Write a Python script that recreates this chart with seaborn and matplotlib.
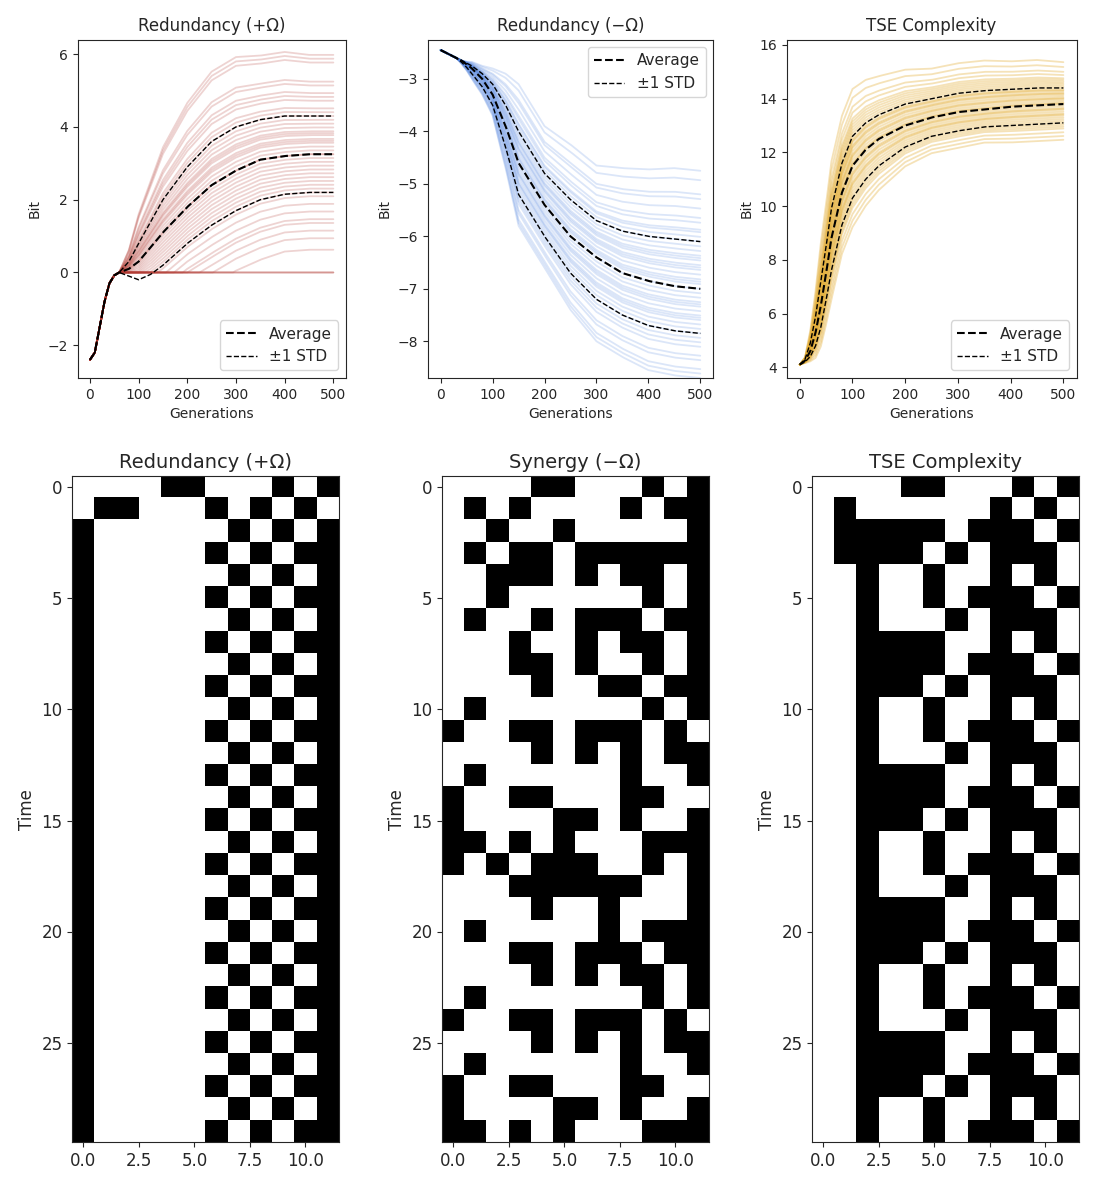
import numpy as np
import pandas as pd
import seaborn as sns
from matplotlib import pyplot as plt

gens = [0, 10, 20, 30, 40, 50, 60, 80, 100, 125, 150, 200, 250, 300, 350, 400, 450, 500]

red_avg = [-2.4, -2.2, -1.5, -0.8, -0.3, -0.08, 0.0, 0.1, 0.3, 0.7, 1.1, 1.8, 2.4, 2.8, 3.1, 3.2, 3.25, 3.25]
red_hi = [-2.4, -2.2, -1.5, -0.8, -0.3, -0.08, 0.0, 0.3, 0.8, 1.4, 2.0, 2.9, 3.6, 4.0, 4.2, 4.3, 4.3, 4.3]
red_lo = [-2.4, -2.2, -1.5, -0.8, -0.3, -0.08, 0.0, -0.1, -0.2, -0.05, 0.2, 0.8, 1.3, 1.7, 2.0, 2.15, 2.2, 2.2]

blue_avg = [-2.45, -2.5, -2.55, -2.6, -2.65, -2.72, -2.8, -3.0, -3.3, -3.9, -4.6, -5.4, -6.0, -6.4, -6.7, -6.85, -6.95, -7.0]
blue_hi = [-2.45, -2.5, -2.55, -2.6, -2.65, -2.7, -2.75, -2.9, -3.1, -3.5, -4.0, -4.8, -5.3, -5.7, -5.9, -6.0, -6.05, -6.1]
blue_lo = [-2.45, -2.5, -2.55, -2.6, -2.68, -2.78, -2.9, -3.15, -3.5, -4.3, -5.2, -6.0, -6.7, -7.2, -7.5, -7.7, -7.8, -7.85]

gold_avg = [4.1, 4.25, 4.6, 5.3, 6.3, 7.5, 8.8, 10.5, 11.5, 12.1, 12.5, 13.0, 13.3, 13.5, 13.6, 13.7, 13.75, 13.8]
gold_hi = [4.1, 4.3, 4.9, 5.9, 7.2, 8.5, 9.9, 11.6, 12.6, 13.1, 13.4, 13.8, 14.0, 14.2, 14.3, 14.35, 14.4, 14.4]
gold_lo = [4.1, 4.2, 4.4, 4.8, 5.5, 6.5, 7.6, 9.3, 10.3, 11.0, 11.5, 12.2, 12.6, 12.8, 12.95, 13.0, 13.05, 13.1]

# spread of individual runs, in units of one STD
red_z = [-3.1, -3.1, -3.1, -2.5, -2.0, -1.8, -1.5, -1.3, -1.1, -1.0, -0.9, -0.7, -0.6, -0.5,
         -0.4, -0.3, -0.2, -0.1, 0.0, 0.0, 0.1, 0.2, 0.3, 0.4, 0.5, 0.6, 0.7, 0.8, 0.9, 1.0,
         1.1, 1.2, 1.4, 1.6, 1.8, 1.9, 2.4, 2.5, -1.7, -0.8, 0.35, 0.55, 1.5, -2.2, 2.6]
blue_z = [-2.0, -1.8, -1.6, -1.5, -1.3, -1.2, -1.0, -0.9, -0.8, -0.7, -0.6, -0.5, -0.4, -0.3,
          -0.2, -0.1, 0.0, 0.1, 0.2, 0.3, 0.4, 0.5, 0.6, 0.7, 0.8, 0.9, 1.0, 1.1, 1.2, 1.4,
          1.5, 1.7, 1.9, 2.0, 2.3, -1.1, -0.35, 0.15, 0.65, 1.25, -1.9, -0.65, 0.45, 2.5]
gold_z = [-1.9, -1.7, -1.5, -1.3, -1.2, -1.0, -0.9, -0.8, -0.7, -0.6, -0.5, -0.4, -0.3, -0.2,
          -0.1, 0.0, 0.1, 0.2, 0.3, 0.4, 0.5, 0.6, 0.7, 0.8, 0.9, 1.0, 1.1, 1.2, 1.4, 1.6,
          1.8, 2.0, 2.3, -1.1, -0.25, 0.35, 0.85, 1.5, -0.55, 0.05, 0.65, 1.3, 2.6]

# binary CA patterns (1 = black)
red_grid = ["000011000101", "011000101010"] + \
    ["100000010101", "100000101011"] * 14
syn_grid = ["000011000101", "010100001011", "001001000001", "010110111111",
            "001110101101", "001000000101", "010010111011", "000100101101",
            "000110100101", "000010011011", "010000000101", "100110111010",
            "000010101011", "010000001001", "100110001100", "100001101001",
            "110101000111", "101011100101", "000111111001", "000010010001",
            "010000010111", "000110111011", "000010101101", "010000000101",
            "100110111010", "000010101011", "010000001001", "100110001100",
            "100001101001", "110101000111"]
tse_grid = ["000011000101", "010000001010", "011111011101", "011110101110"] + \
    ["001001001010", "001001011101", "001000101110",
     "001111001010", "001111011101", "001110101110"] * 4 + \
    ["001001001010", "001001011101"]

xs = np.arange(0, 501, 2)


def runs_frame(avg, hi, lo, zs, floor=None):
    a = np.interp(xs, gens, avg)
    h = np.interp(xs, gens, hi)
    l = np.interp(xs, gens, lo)
    rows = []
    for i, z in enumerate(zs):
        y = a + z * np.where(z >= 0, h - a, a - l)
        if floor is not None:
            y = np.where(xs >= 60, np.maximum(y, floor), y)
        rows.append(pd.DataFrame({'gen': xs, 'bit': y, 'run': i}))
    return pd.concat(rows, ignore_index=True)


def plot_panel(ax, avg, hi, lo, zs, color, alpha, title, loc, floor=None):
    df = runs_frame(avg, hi, lo, zs, floor)
    sns.lineplot(ax=ax, data=df, x='gen', y='bit', units='run', estimator=None,
                 color=color, alpha=alpha, lw=1.3, legend=False)
    sns.lineplot(ax=ax, x=xs, y=np.interp(xs, gens, avg), color='black', ls='--', lw=1.5,
                 label='Average')
    sns.lineplot(ax=ax, x=xs, y=np.interp(xs, gens, hi), color='black', ls='--', lw=1,
                 label='±1 STD')
    sns.lineplot(ax=ax, x=xs, y=np.interp(xs, gens, lo), color='black', ls='--', lw=1)
    ax.legend(loc=loc, fontsize=11)
    ax.set_title(title, fontsize=12)
    ax.set(xlabel='Generations', ylabel='Bit')


def plot_grid(ax, grid, title):
    arr = np.array([[int(c) for c in row] for row in grid])
    ax.imshow(arr, cmap='gray_r', interpolation='nearest', aspect='equal')
    ax.set_title(title, fontsize=14)
    ax.set_ylabel('Time', fontsize=12)
    ax.set_yticks([0, 5, 10, 15, 20, 25])
    ax.set_xticks([0, 2.5, 5, 7.5, 10])
    ax.tick_params(labelsize=12)


sns.set_style("ticks")
fig = plt.figure(figsize=(11.11, 12), dpi=100)

ax1 = fig.add_axes([0.070, 0.685, 0.241, 0.282])
ax2 = fig.add_axes([0.385, 0.685, 0.257, 0.282])
ax3 = fig.add_axes([0.708, 0.685, 0.261, 0.282])
plot_panel(ax1, red_avg, red_hi, red_lo, red_z, '#b23a32', 0.22, 'Redundancy (+Ω)', 'lower right', 0.0)
plot_panel(ax2, blue_avg, blue_hi, blue_lo, blue_z, '#4f82e0', 0.2, 'Redundancy (−Ω)', 'upper right')
plot_panel(ax3, gold_avg, gold_hi, gold_lo, gold_z, '#e3ad35', 0.35, 'TSE Complexity', 'lower right')
ax1.set_yticks([-2, 0, 2, 4, 6])
ax1.set_ylim(-2.9, 6.4)
ax2.set_yticks([-8, -7, -6, -5, -4, -3])
ax2.set_ylim(-8.7, -2.25)
ax3.set_yticks([4, 6, 8, 10, 12, 14, 16])
ax3.set_ylim(3.6, 16.2)

bx1 = fig.add_axes([0.065, 0.048, 0.240, 0.555])
bx2 = fig.add_axes([0.398, 0.048, 0.240, 0.555])
bx3 = fig.add_axes([0.731, 0.048, 0.240, 0.555])
plot_grid(bx1, red_grid, 'Redundancy (+Ω)')
plot_grid(bx2, syn_grid, 'Synergy (−Ω)')
plot_grid(bx3, tse_grid, 'TSE Complexity')

fig.savefig('out.png', dpi=100)
